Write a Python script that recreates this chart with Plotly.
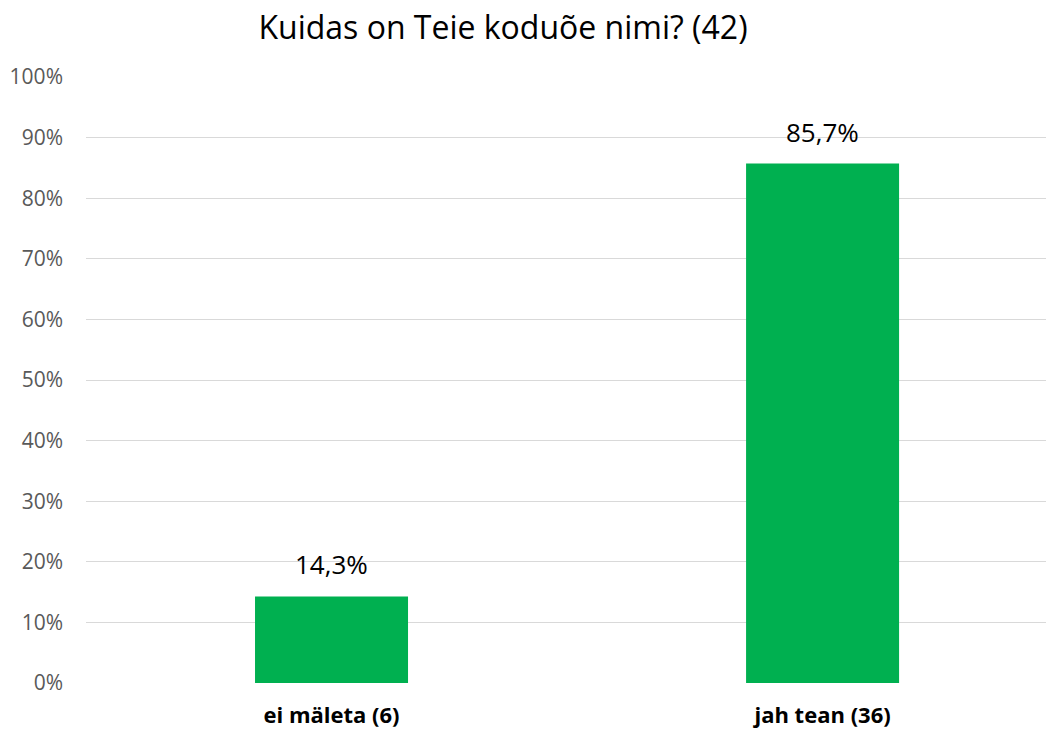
import plotly.graph_objects as go

categories = ["ei mäleta (6)", "jah tean (36)"]
values = [0.143, 0.857]
title_text = "Kuidas on Teie koduõe nimi? (42)"

FONT = "Open Sans, Liberation Sans, sans-serif"

W, H = 1059, 731

fig = go.Figure()
fig.add_trace(go.Bar(
    x=[f"<b>{c}</b>" for c in categories],
    y=values,
    width=0.3116,
    marker=dict(color="#00B050", line=dict(width=0)),
    hoverinfo="x+y",
))

for c, v in zip(categories, values):
    fig.add_annotation(
        x=f"<b>{c}</b>", y=v, xref="x", yref="y",
        text=f"{v*100:.1f}%".replace(".", ","),
        showarrow=False, yanchor="bottom", yshift=12,
        font=dict(family=FONT, size=26, color="#000000"),
    )

fig.update_layout(
    width=W, height=H,
    paper_bgcolor="white", plot_bgcolor="white",
    margin=dict(l=86, r=13, t=76, b=47),
    separators=",.",
    showlegend=False,
    title=dict(text=title_text, x=503 / W, xanchor="center", xref="container",
               y=1 - 28 / H, yanchor="middle", yref="container",
               font=dict(family=FONT, size=32, color="#000000")),
    font=dict(family=FONT),
)
fig.update_yaxes(range=[-0.0015, 1.0015], tickformat=".0%", dtick=0.1,
                 showgrid=True, gridcolor="#D9D9D9", gridwidth=1.3,
                 zeroline=False, showline=False, automargin=False,
                 tickfont=dict(family=FONT, size=21, color="#595959"),
                 ticks="", ticklabelstandoff=22)
fig.update_xaxes(range=[-0.5, 1.455], showline=False, ticks="", showgrid=False,
                 automargin=False,
                 tickfont=dict(family=FONT, size=22, color="#000000"),
                 ticklabelstandoff=16)

fig.write_html("out.html",
               config={"displayModeBar": False},
               post_script="document.body.style.margin='0';document.body.style.overflow='hidden';")
